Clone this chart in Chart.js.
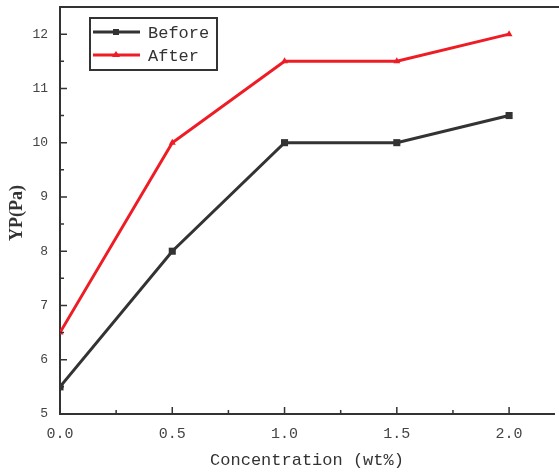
<!DOCTYPE html>
<html>
<head>
<meta charset="utf-8">
<script src="https://cdn.jsdelivr.net/npm/chart.js@4/dist/chart.umd.min.js"></script>
<style>
html,body{margin:0;padding:0;background:#fff;overflow:hidden;}
#wrap{width:559px;height:472px;}
</style>
</head>
<body>
<div id="wrap"><canvas id="c" width="559" height="472"></canvas></div>
<script>
const concentration = [0.0, 0.5, 1.0, 1.5, 2.0];
const before = [5.5, 8.0, 10.0, 10.0, 10.5];
const after = [6.5, 10.0, 11.5, 11.5, 12.0];
const xTickValues = [0.0, 0.5, 1.0, 1.5, 2.0];
const xMinorValues = [0.25, 0.75, 1.25, 1.75];
const yTickValues = [5, 6, 7, 8, 9, 10, 11, 12];
const yMinorValues = [5.5, 6.5, 7.5, 8.5, 9.5, 10.5, 11.5, 12.5];
const seriesLabels = ['Before', 'After'];
const xTitle = 'Concentration (wt%)';
const yTitle = 'YP(Pa)';

const MONO = '"Liberation Mono", "DejaVu Sans Mono", monospace';
const axisColor = '#333333';

const framePlugin = {
  id: 'frame',
  afterDraw(chart) {
    const ctx = chart.ctx;
    const a = chart.chartArea;
    const xs = chart.scales.x, ys = chart.scales.y;
    ctx.save();
    // top border
    ctx.strokeStyle = axisColor;
    ctx.lineWidth = 2;
    ctx.beginPath();
    ctx.moveTo(a.left, a.top);
    ctx.lineTo(a.right + 10, a.top);
    ctx.stroke();
    // inward ticks
    ctx.lineWidth = 1.5;
    ctx.beginPath();
    xTickValues.forEach(v => { const p = xs.getPixelForValue(v); ctx.moveTo(p, a.bottom); ctx.lineTo(p, a.bottom - 7); });
    xMinorValues.forEach(v => { const p = xs.getPixelForValue(v); ctx.moveTo(p, a.bottom); ctx.lineTo(p, a.bottom - 4); });
    yTickValues.forEach(v => { const p = ys.getPixelForValue(v); ctx.moveTo(a.left, p); ctx.lineTo(a.left + 7, p); });
    yMinorValues.forEach(v => { const p = ys.getPixelForValue(v); ctx.moveTo(a.left, p); ctx.lineTo(a.left + 4, p); });
    ctx.stroke();
    // axis titles
    ctx.fillStyle = '#333';
    ctx.font = '17px ' + MONO;
    ctx.textAlign = 'center';
    ctx.textBaseline = 'middle';
    ctx.fillText(xTitle, (a.left + a.right) / 2, 460);
    ctx.save();
    ctx.translate(17, 213);
    ctx.rotate(-Math.PI / 2);
    ctx.font = 'bold 18px "Liberation Serif", "DejaVu Serif", serif';
    ctx.fillText(yTitle, 0, 0);
    ctx.restore();
    // legend box
    const lx = 90, ly = 18, lw = 127, lh = 52;
    ctx.fillStyle = '#fff';
    ctx.fillRect(lx, ly, lw, lh);
    ctx.strokeStyle = axisColor;
    ctx.lineWidth = 2;
    ctx.strokeRect(lx, ly, lw, lh);
    chart.data.datasets.forEach((ds, i) => {
      const y = ly + 14 + i * 23;
      ctx.strokeStyle = ds.borderColor;
      ctx.lineWidth = 3;
      ctx.beginPath();
      ctx.moveTo(lx + 3, y);
      ctx.lineTo(lx + 50, y);
      ctx.stroke();
      ctx.fillStyle = ds.borderColor;
      if (i === 0) {
        ctx.fillRect(lx + 26 - 3, y - 3, 6, 6);
      } else {
        ctx.beginPath();
        ctx.moveTo(lx + 26, y - 4);
        ctx.lineTo(lx + 30, y + 2);
        ctx.lineTo(lx + 22, y + 2);
        ctx.closePath();
        ctx.fill();
      }
      ctx.fillStyle = '#333';
      ctx.font = '17px ' + MONO;
      ctx.textAlign = 'left';
      ctx.textBaseline = 'middle';
      ctx.fillText(ds.label, lx + 58, y + 1);
    });
    ctx.restore();
  }
};

new Chart(document.getElementById('c'), {
  type: 'line',
  data: {
    datasets: [
      {
        label: seriesLabels[0],
        data: concentration.map((x, i) => ({ x: x, y: before[i] })),
        borderColor: '#333333',
        backgroundColor: '#333333',
        borderWidth: 3,
        pointStyle: 'rect',
        pointRadius: 5,
        pointBorderWidth: 0,
        tension: 0
      },
      {
        label: seriesLabels[1],
        data: concentration.map((x, i) => ({ x: x, y: after[i] })),
        borderColor: '#ee1c25',
        backgroundColor: '#ee1c25',
        borderWidth: 3,
        pointStyle: 'triangle',
        pointRadius: 4,
        pointBorderWidth: 0,
        tension: 0
      }
    ]
  },
  options: {
    responsive: false,
    animation: false,
    events: [],
    layout: { padding: { top: 7, right: 4, left: 0, bottom: 0 } },
    plugins: { legend: { display: false }, tooltip: { enabled: false } },
    scales: {
      x: {
        type: 'linear',
        min: 0,
        max: 2.2,
        afterBuildTicks: s => { s.ticks = xTickValues.map(v => ({ value: v })); },
        afterFit: s => { s.height = 58; s.paddingLeft = 0; s.paddingRight = 0; },
        grid: { display: false, drawTicks: false },
        border: { display: true, color: axisColor, width: 2 },
        ticks: {
          autoSkip: false,
          maxRotation: 0,
          padding: 11,
          color: '#444',
          font: { family: MONO, size: 15 },
          callback: v => Number(v).toFixed(1)
        }
      },
      y: {
        min: 5,
        max: 12.5,
        afterBuildTicks: s => { s.ticks = yTickValues.map(v => ({ value: v })); },
        afterFit: s => { s.width = 60; s.paddingTop = 0; s.paddingBottom = 0; },
        grid: { display: false, drawTicks: false },
        border: { display: true, color: axisColor, width: 2 },
        ticks: {
          autoSkip: false,
          padding: 12,
          color: '#444',
          font: { family: MONO, size: 13 },
          callback: v => String(v)
        }
      }
    }
  },
  plugins: [framePlugin]
});
</script>
</body>
</html>
